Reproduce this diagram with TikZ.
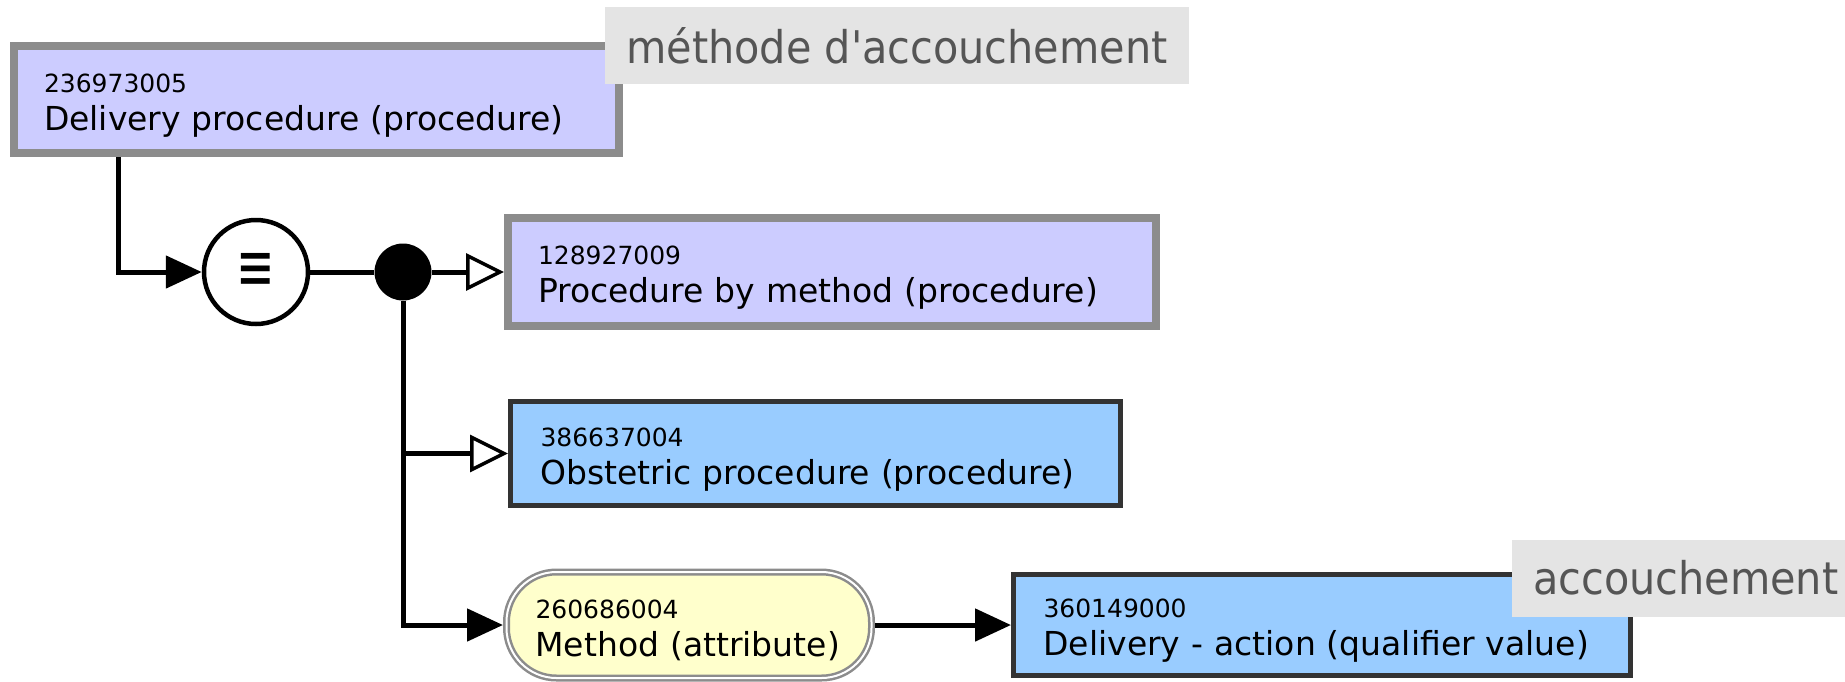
\documentclass[tikz,border=0pt]{standalone}
\usepackage{fontspec}
\setmainfont{DejaVu Sans}
\newfontfamily\tagfont[FakeStretch=0.92]{DejaVu Sans}
\usepackage{graphicx}
\usepackage{tikz}
\usepackage{xcolor}
\usetikzlibrary{arrows.meta}

\definecolor{lavender}{HTML}{CCCCFF}
\definecolor{skyblue}{HTML}{99CCFF}
\definecolor{cream}{HTML}{FFFFCC}
\definecolor{edgegray}{HTML}{8C8C8C}
\definecolor{edgedark}{HTML}{333333}
\definecolor{tagfill}{HTML}{E4E4E4}
\definecolor{tagtext}{HTML}{555555}

% concept id, set smaller above the term
\newcommand{\sctid}[1]{{\fontsize{25}{38}\selectfont\rule{0pt}{30pt}#1}}

\tikzset{
  box/.style={rectangle, align=left, inner xsep=30pt, inner ysep=0pt,
    font=\fontsize{33}{38}\selectfont},
  greybox/.style={box, draw=edgegray, line width=8pt, fill=lavender},
  darkbox/.style={box, draw=edgedark, line width=5pt, fill=skyblue},
  pill/.style={box, rounded corners=50pt, draw=edgegray, line width=2.5pt,
    double=white, double distance=2pt, outer sep=3.5pt, fill=cream, inner xsep=29pt},
  tag/.style={fill=tagfill, text=tagtext, font=\tagfont\fontsize{45}{45}\selectfont,
    inner xsep=21pt, minimum height=77pt},
  conn/.style={line width=5pt},
  fillhead/.style={-{Triangle[length=36pt, width=32pt]}},
  openhead/.style={-{Triangle[open, fill=white, length=38pt, width=37pt, line width=3.5pt]}},
}

\begin{document}
\begin{tikzpicture}[x=1pt, y=-1pt]
    \useasboundingbox (0,0) rectangle (1845,681);
    \clip (0,0) rectangle (1845,681);

    % Concept boxes
    \node[greybox, minimum width=605pt, minimum height=107pt, text width=545pt] (delivery)
        at (316.5,99.5) {\sctid{236973005}\\Delivery procedure (procedure)};
    \node[greybox, minimum width=648pt, minimum height=108pt, text width=588pt] (bymethod)
        at (832,272) {\sctid{128927009}\\Procedure by method (procedure)};
    \node[darkbox, minimum width=610pt, minimum height=104pt, text width=550pt] (obstetric)
        at (815.5,453.5) {\sctid{386637004}\\Obstetric procedure (procedure)};
    \node[pill, minimum width=365pt, minimum height=106pt, text width=307pt] (method)
        at (689,625) {\sctid{260686004}\\Method (attribute)};
    \node[darkbox, minimum width=617pt, minimum height=101pt, text width=557pt] (action)
        at (1322,625) {\sctid{360149000}\\Delivery - action (qualifier value)};

    % Equivalence sign and junction
    \node[circle, draw, line width=4.5pt, fill=white, minimum size=104pt, inner sep=0pt,
        font=\fontsize{46}{46}\selectfont] (equiv) at (256,272) {\scalebox{1}[1.5]{≡}};
    \node[circle, fill=black, minimum size=57pt, inner sep=0pt] (dot) at (403,272) {};

    % Description tags
    \node[tag] (tagmethod) at (897,45.5) {méthode d'accouchement};
    \node[tag, anchor=west] (tagdelivery) at (1512,578) {accouchement};

    % Connectors
    \coordinate (elbow) at (118,272);
    \draw[conn, fillhead] (delivery.south -| elbow) -- (elbow) -- (equiv.west);
    \draw[conn] (equiv) -- (dot);
    \draw[conn, openhead] (dot) -- (bymethod.west);
    \draw[conn, fillhead] (dot) -- (dot |- method.west) -- (method.west);
    \draw[conn, openhead] (dot |- obstetric.west) -- (obstetric.west);
    \draw[conn, fillhead] (method) -- (action);
\end{tikzpicture}
\end{document}
